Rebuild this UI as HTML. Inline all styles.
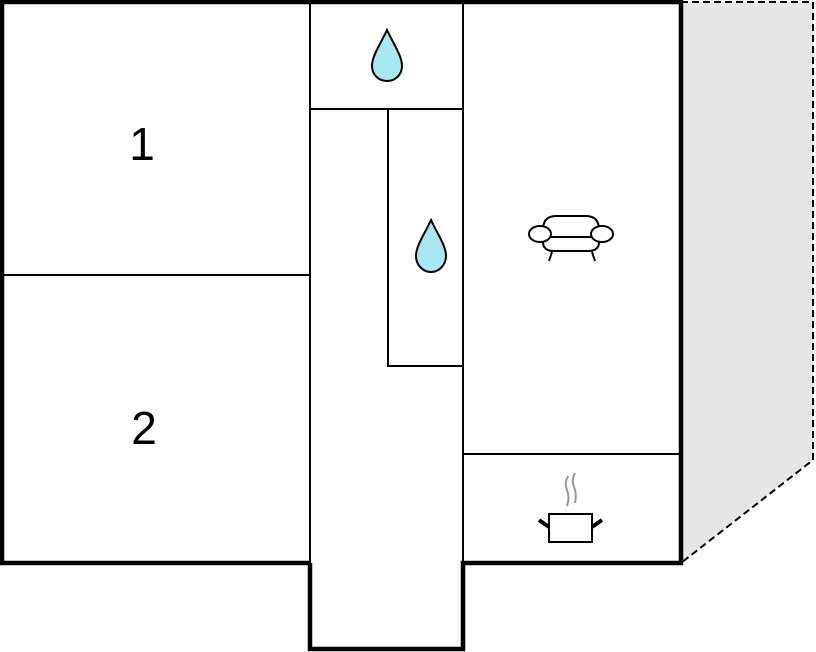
<!DOCTYPE html>
<html><head><style>html,body{margin:0;padding:0;background:#fff}svg{display:block}</style></head><body>
<svg width="816" height="652" viewBox="0 0 816 652" xmlns="http://www.w3.org/2000/svg">
<polygon points="681,2 813,2 813,460 681,563" fill="#e6e6e6" stroke="#000" stroke-width="2" stroke-dasharray="7,4"/>
<g fill="none" stroke="#000">
<line x1="310" y1="2" x2="310" y2="563" stroke-width="2"/>
<line x1="463" y1="2" x2="463" y2="563" stroke-width="2"/>
<line x1="2" y1="275" x2="310" y2="275" stroke-width="2"/>
<line x1="310" y1="109" x2="463" y2="109" stroke-width="2"/>
<polyline points="388,109 388,366 463,366" stroke-width="2"/>
<line x1="463" y1="454" x2="681" y2="454" stroke-width="2"/>
<polyline points="310,563 2,563 2,2 681,2 681,563 463,563 463,649 310,649 310,563" stroke-width="4.5"/>
</g>
<g fill="#a8e8f0" stroke="#000" stroke-width="2">
<path d="M387,30 C380,45 372,56 372,66 C372,75 379,81 387,81 C395,81 402,75 402,66 C402,56 394,45 387,30 Z"/>
<path d="M431,220 C424,235 416,246 416,256 C416,265 423,272 431,272 C439,272 446,265 446,256 C446,246 438,235 431,220 Z"/>
</g>
<g font-family="Liberation Sans, sans-serif" font-size="46" text-anchor="middle" fill="#000">
<text x="142" y="160">1</text>
<text x="144" y="444">2</text>
</g>
<g fill="#fff" stroke="#000" stroke-width="2">
<path d="M543,230 Q543,216 556,216 L586,216 Q599,216 599,230 L599,242 Q599,251 588,251 L554,251 Q543,251 543,242 Z"/>
<line x1="547" y1="237" x2="595" y2="237"/>
<ellipse cx="540" cy="234" rx="11" ry="8"/>
<ellipse cx="602" cy="234" rx="11" ry="8"/>
<line x1="552" y1="252" x2="549" y2="261"/>
<line x1="592" y1="252" x2="595" y2="261"/>
<rect x="549" y="514" width="43" height="28"/>
</g>
<g stroke="#000" stroke-width="4" stroke-linecap="butt">
<line x1="539" y1="520" x2="549" y2="527"/>
<line x1="602" y1="520" x2="592" y2="527"/>
</g>
<g fill="none" stroke="#999" stroke-width="2">
<path d="M568,476 Q564,483 567,490 Q570,497 567,506"/>
<path d="M575,473 Q571,480 574,487 Q577,494 575,503"/>
</g>
</svg>
</body></html>
